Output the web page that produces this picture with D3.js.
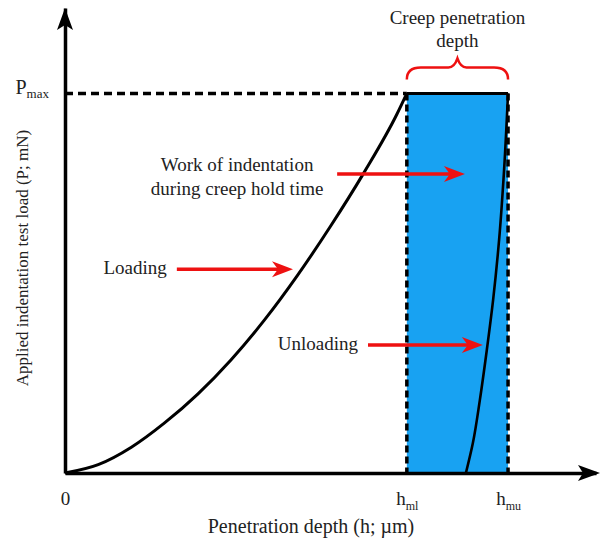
<!DOCTYPE html>
<meta charset="utf-8">
<style>
    body { margin: 0; background: #fff; }
    svg text { font-family: "Liberation Serif", "DejaVu Serif", serif; fill: #222; }
</style>
<svg width="602" height="545"></svg>
<script src="https://cdn.jsdelivr.net/npm/d3@7/dist/d3.min.js"></script>
<script>
    // loading branch (h in um, P in mN)
    var loadH = [0, 0.1, 0.2, 0.3, 0.4, 0.5, 0.6, 0.7, 0.8, 0.9, 1.0, 1.03];
    var loadP = [0, 0.22, 0.68, 1.32, 2.08, 2.98, 4.02, 5.20, 6.50, 7.90, 9.45, 10];
    // unloading branch
    var unloadH = [1.335, 1.323, 1.308, 1.290, 1.271, 1.250, 1.229, 1.208];
    var unloadP = [10, 7.98, 6.14, 4.56, 3.24, 1.92, 0.79, 0];
    var pMax = 10, hMl = 1.03, hMu = 1.335;
    var xTicks = [0, hMl, hMu];
    var xTickLabels = [["0", ""], ["h", "ml"], ["h", "mu"]];
    // annotation arrows: label lines, tail h, tip h, P level
    var noteText = [["Loading"], ["Work of indentation", "during creep hold time"], ["Unloading"]];
    var noteTail = [0.337, 0.820, 0.913];
    var noteTip = [0.687, 1.205, 1.259];
    var noteP = [5.37, 7.88, 3.37];

    var svg = d3.select("svg"),
        x = d3.scaleLinear().domain([0, 1.6]).range([65, 596]),
        y = d3.scaleLinear().domain([0, 12.25]).range([473, 8]),
        red = "#ee1111";

    // creep band
    svg.append("rect")
        .attr("x", x(hMl)).attr("y", y(pMax))
        .attr("width", x(hMu) - x(hMl)).attr("height", y(0) - y(pMax))
        .attr("fill", "#18a2f2");
    [hMl, hMu].forEach(function (h) {
        svg.append("line")
            .attr("x1", x(h)).attr("x2", x(h))
            .attr("y1", y(pMax)).attr("y2", y(0))
            .attr("stroke", "#000").attr("stroke-width", 3.5)
            .attr("stroke-dasharray", "7,4");
    });
    svg.append("line")
        .attr("x1", x(hMl)).attr("x2", x(hMu))
        .attr("y1", y(pMax)).attr("y2", y(pMax))
        .attr("stroke", "#000").attr("stroke-width", 3);
    // Pmax level
    svg.append("line")
        .attr("x1", x(0)).attr("x2", x(hMl))
        .attr("y1", y(pMax)).attr("y2", y(pMax))
        .attr("stroke", "#000").attr("stroke-width", 3.5)
        .attr("stroke-dasharray", "8,5");

    var loadLine = d3.line()
        .x(function (d, i) { return x(loadH[i]); })
        .y(function (d) { return y(d); })
        .curve(d3.curveMonotoneX);
    svg.append("path")
        .attr("d", loadLine(loadP))
        .attr("fill", "none").attr("stroke", "#000").attr("stroke-width", 3);

    var unloadLine = d3.line()
        .x(function (d, i) { return x(unloadH[i]); })
        .y(function (d) { return y(d); })
        .curve(d3.curveMonotoneY);
    svg.append("path")
        .attr("d", unloadLine(unloadP))
        .attr("fill", "none").attr("stroke", "#000").attr("stroke-width", 2.6);

    // axes
    var xAxis = svg.append("g")
        .attr("transform", "translate(0," + y(0) + ")")
        .call(d3.axisBottom(x).tickValues(xTicks).tickSize(0).tickSizeOuter(0).tickPadding(19));
    var yAxis = svg.append("g")
        .attr("transform", "translate(" + x(0) + ",0)")
        .call(d3.axisLeft(y).tickValues([pMax]).tickSize(0).tickSizeOuter(0).tickPadding(16));
    svg.selectAll(".domain").attr("stroke", "#000").attr("stroke-width", 3.5);

    xAxis.selectAll(".tick text").each(function (d, i) {
        var t = d3.select(this).text(null)
            .attr("font-size", 19).attr("font-family", null);
        t.append("tspan").text(xTickLabels[i][0]);
        if (xTickLabels[i][1]) {
            t.append("tspan").attr("font-size", 12).attr("dy", 5).text(xTickLabels[i][1]);
        }
    });
    yAxis.selectAll(".tick text").each(function () {
        var t = d3.select(this).text(null)
            .attr("font-size", 20).attr("font-family", null).attr("dy", 0);
        t.append("tspan").text("P");
        t.append("tspan").attr("font-size", 13).attr("dy", 4).text("max");
    });

    // arrow heads of the axes
    var head = "M0,0 L-22,-8 L-17,0 L-22,8 Z";
    svg.append("path").attr("d", head)
        .attr("transform", "translate(600," + y(0) + ")").attr("fill", "#000");
    svg.append("path").attr("d", head)
        .attr("transform", "translate(" + x(0) + ",8) rotate(-90)").attr("fill", "#000");

    // axis titles
    svg.append("text")
        .attr("x", 311).attr("y", 533)
        .attr("text-anchor", "middle").attr("font-size", 20)
        .text("Penetration depth (h; \u00b5m)");
    svg.append("text")
        .attr("transform", "translate(28,258) rotate(-90)")
        .attr("text-anchor", "middle").attr("font-size", 17)
        .text("Applied indentation test load (P; mN)");

    // creep brace and label
    var x0 = x(hMl), x1 = x(hMu), xc = (x0 + x1) / 2, yb = y(pMax);
    svg.append("path")
        .attr("d", "M" + x0 + "," + (yb - 14) +
            " Q" + x0 + "," + (yb - 26) + " " + (x0 + 14) + "," + (yb - 26) +
            " L" + (xc - 9) + "," + (yb - 26) +
            " Q" + (xc - 3) + "," + (yb - 26) + " " + xc + "," + (yb - 35) +
            " Q" + (xc + 3) + "," + (yb - 26) + " " + (xc + 9) + "," + (yb - 26) +
            " L" + (x1 - 14) + "," + (yb - 26) +
            " Q" + x1 + "," + (yb - 26) + " " + x1 + "," + (yb - 14))
        .attr("fill", "none").attr("stroke", red).attr("stroke-width", 2.5);
    svg.append("text")
        .attr("x", xc).attr("y", 24)
        .attr("text-anchor", "middle").attr("font-size", 19)
        .text("Creep penetration");
    svg.append("text")
        .attr("x", xc).attr("y", 47)
        .attr("text-anchor", "middle").attr("font-size", 19)
        .text("depth");

    // annotations
    var arrowHead = "M0,0 L-21,-8 L-15,0 L-21,8 Z";
    noteText.forEach(function (lines, i) {
        var yy = y(noteP[i]);
        svg.append("line")
            .attr("x1", x(noteTail[i])).attr("x2", x(noteTip[i]) - 12)
            .attr("y1", yy).attr("y2", yy)
            .attr("stroke", red).attr("stroke-width", 3.5);
        svg.append("path").attr("d", arrowHead)
            .attr("transform", "translate(" + x(noteTip[i]) + "," + yy + ")")
            .attr("fill", red);
        var t = svg.append("text")
            .attr("font-size", 19)
            .attr("text-anchor", lines.length > 1 ? "middle" : "end");
        if (lines.length > 1) {
            t.selectAll("tspan").data(lines).enter().append("tspan")
                .attr("x", x(noteTail[i]) - 100)
                .attr("y", function (d, j) { return yy - 3 + j * 24; })
                .text(function (d) { return d; });
        } else {
            t.attr("x", x(noteTail[i]) - 10).attr("y", yy + 5).text(lines[0]);
        }
    });
</script>
